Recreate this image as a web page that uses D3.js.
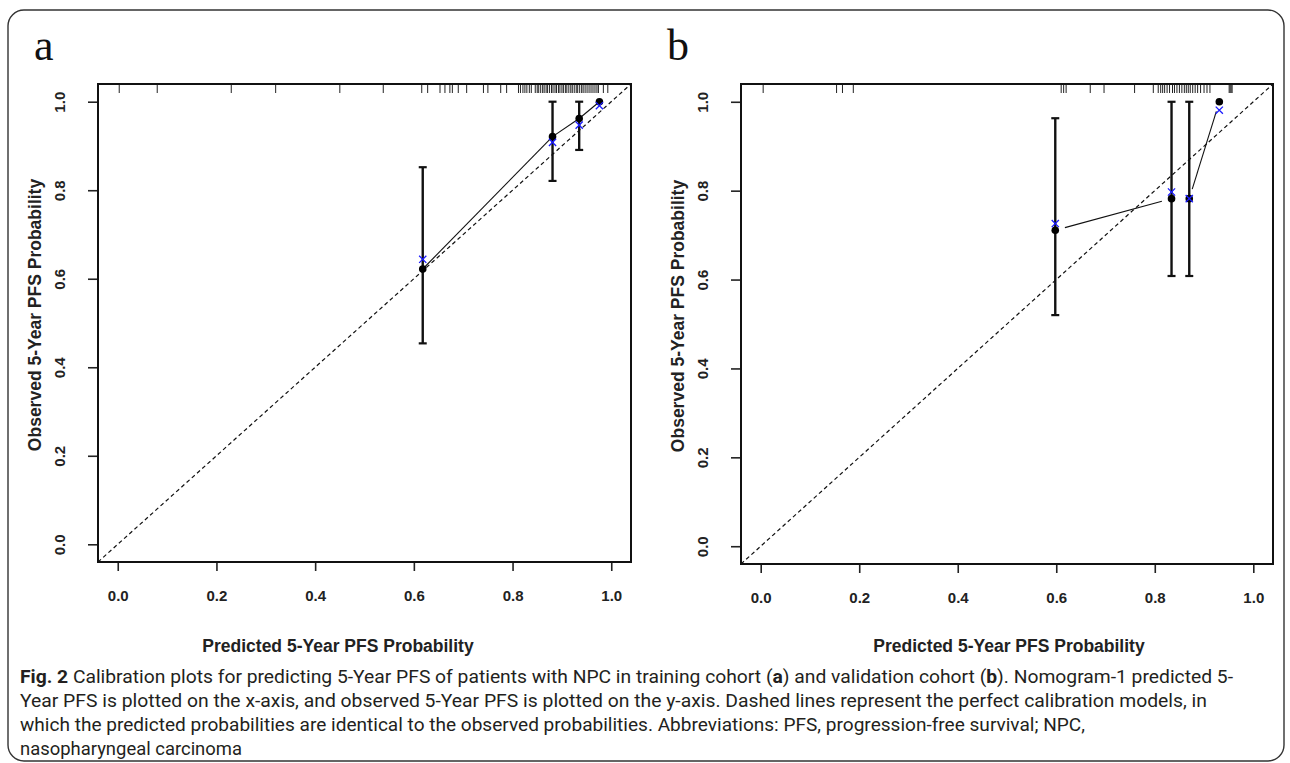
<!DOCTYPE html>
<html>
<head>
<meta charset="utf-8">
<script src="https://cdn.jsdelivr.net/npm/d3@7"></script>
<style>
  body { margin: 0; background: #fff; }
  svg { display: block; }
  .atitle { font-family: "Liberation Sans", Arial, sans-serif; font-weight: bold; font-size: 17.5px; fill: #222; }
  .cap { font-family: "Liberation Sans Narrow", Roboto, sans-serif; font-size: 19px; fill: #231f20; }
</style>
</head>
<body>
<div id="fig"></div>
<script>
// ---- data ----
const ticks = [0, 0.2, 0.4, 0.6, 0.8, 1.0];

// panel a : training cohort
const predA = [0.618, 0.881, 0.935, 0.976];
const obsA  = [0.622, 0.921, 0.962, 1.0];
const corrA = [0.644, 0.908, 0.947, 0.991];
const loA   = [0.454, 0.821, 0.891, 1.0];
const hiA   = [0.852, 1.0, 1.0, 1.0];
const rugA  = [0.003, 0.08, 0.23, 0.32, 0.45, 0.538, 0.616, 0.628, 0.653, 0.663, 0.673, 0.678, 0.69, 0.707,
               0.741, 0.75, 0.776, 0.788, 0.812, 0.816, 0.821, 0.825, 0.829, 0.834, 0.838, 0.846, 0.85, 0.853,
               0.857, 0.861, 0.864, 0.868, 0.871, 0.875, 0.879, 0.882, 0.886, 0.889, 0.893, 0.896, 0.9, 0.903,
               0.907, 0.91, 0.914, 0.918, 0.921, 0.925, 0.929, 0.932, 0.936, 0.94, 0.943, 0.947, 0.951, 0.955,
               0.959, 0.963, 0.967, 0.971, 0.974, 0.984, 0.993];

// panel b : validation cohort
const predB = [0.598, 0.834, 0.870, 0.931];
const obsB  = [0.711, 0.782, 0.782, 1.0];
const corrB = [0.726, 0.797, 0.782, 0.981];
const loB   = [0.52, 0.608, 0.608, 1.0];
const hiB   = [0.963, 1.0, 1.0, 1.0];
const rugB  = [0.005, 0.154, 0.166, 0.188, 0.61, 0.615, 0.62, 0.669, 0.697, 0.759, 0.797, 0.807, 0.812,
               0.816, 0.82, 0.825, 0.83, 0.836, 0.84, 0.845, 0.85, 0.855, 0.86, 0.864, 0.868, 0.872, 0.877,
               0.882, 0.887, 0.893, 0.9, 0.906, 0.912, 0.951, 0.953, 0.955, 0.957];

const xTitle = "Predicted 5-Year PFS Probability";
const yTitle = "Observed 5-Year PFS Probability";

const W = 1290, H = 763;
const svg = d3.select('#fig').append('svg').attr('width', W).attr('height', H);

// rounded outer frame
svg.append('rect')
    .attr('x', 8).attr('y', 10).attr('width', 1276).attr('height', 751)
    .attr('rx', 16)
    .attr('fill', 'none').attr('stroke', '#333').attr('stroke-width', 1.4);

function styleTicks(sel){
    sel.selectAll('.tick text')
        .style('font-family', '"Liberation Sans", Arial, sans-serif')
        .style('font-weight', 'bold').style('font-size', '15px').attr('fill', '#222');
    sel.selectAll('.tick line').attr('stroke', '#222').attr('stroke-width', 1.6);
    sel.select('.domain').remove();
}

function panel(opt){
    const {left, right, top, bottom, letter, letterX, pred, obs, corr, lo, hi, rug, gap, xTitleX} = opt;
    const x = d3.scaleLinear().domain([-0.04, 1.04]).range([left, right]);
    const y = d3.scaleLinear().domain([-0.04, 1.04]).range([bottom, top]);
    const g = svg.append('g');

    // panel letter
    svg.append('text').attr('x', letterX).attr('y', 60)
        .style('font-family', '"Liberation Serif", "DejaVu Serif", serif')
        .style('font-size', '44px').attr('fill', '#111').text(letter);

    // axes
    const gx = g.append('g').attr('transform', `translate(0,${bottom})`)
        .call(d3.axisBottom(x).tickValues(ticks).tickFormat(d3.format('.1f')).tickSize(9).tickPadding(19));
    styleTicks(gx);

    const gy = g.append('g').attr('transform', `translate(${left},0)`)
        .call(d3.axisLeft(y).tickValues(ticks).tickFormat(d3.format('.1f')).tickSize(10));
    styleTicks(gy);
    gy.selectAll('.tick text')
        .attr('x', 0).attr('y', -33).attr('dy', null)
        .attr('text-anchor', 'middle')
        .attr('transform', 'rotate(-90)');

    // axis titles
    g.append('text').attr('class', 'atitle')
        .attr('x', xTitleX).attr('y', 652).attr('text-anchor', 'middle').text(xTitle);
    g.append('text').attr('class', 'atitle')
        .attr('transform', `translate(${left - 57},${(top + bottom) / 2 - 8}) rotate(-90)`)
        .attr('text-anchor', 'middle').text(yTitle);

    // ideal line (abline 0,1) clipped to the box
    const clipId = 'clip' + letter;
    svg.append('clipPath').attr('id', clipId).append('rect')
        .attr('x', left).attr('y', top).attr('width', right - left).attr('height', bottom - top);
    g.append('line').attr('clip-path', `url(#${clipId})`)
        .attr('x1', x(-0.04)).attr('y1', y(-0.04)).attr('x2', x(1.04)).attr('y2', y(1.04))
        .attr('stroke', '#111').attr('stroke-width', 1.2).attr('stroke-dasharray', '4,3');

    // rug along the top
    g.selectAll('.rug').data(rug).join('line')
        .attr('x1', d => x(d)).attr('x2', d => x(d))
        .attr('y1', top).attr('y2', top + 9)
        .attr('stroke', '#222').attr('stroke-width', 1);

    const pts = pred.map((p, i) => ({p, o: obs[i], c: corr[i], lo: lo[i], hi: hi[i]}));

    // connecting line (with optional gap around points)
    for (let i = 0; i < pts.length - 1; i++){
        let x1 = x(pts[i].p), y1 = y(pts[i].o), x2 = x(pts[i+1].p), y2 = y(pts[i+1].o);
        const len = Math.hypot(x2 - x1, y2 - y1);
        if (len <= 2 * gap) continue;
        const ux = (x2 - x1) / len, uy = (y2 - y1) / len;
        g.append('line')
            .attr('x1', x1 + ux * gap).attr('y1', y1 + uy * gap)
            .attr('x2', x2 - ux * gap).attr('y2', y2 - uy * gap)
            .attr('stroke', '#111').attr('stroke-width', 1.1);
    }

    // error bars
    const eb = g.selectAll('.eb').data(pts.filter(d => d.hi - d.lo > 0.001)).join('g');
    eb.append('line')
        .attr('x1', d => x(d.p)).attr('x2', d => x(d.p))
        .attr('y1', d => y(d.lo)).attr('y2', d => y(d.hi))
        .attr('stroke', '#111').attr('stroke-width', 2.4);
    eb.append('line')
        .attr('x1', d => x(d.p) - 4).attr('x2', d => x(d.p) + 4)
        .attr('y1', d => y(d.lo)).attr('y2', d => y(d.lo))
        .attr('stroke', '#111').attr('stroke-width', 2.2);
    eb.append('line')
        .attr('x1', d => x(d.p) - 4).attr('x2', d => x(d.p) + 4)
        .attr('y1', d => y(d.hi)).attr('y2', d => y(d.hi))
        .attr('stroke', '#111').attr('stroke-width', 2.2);

    // observed dots
    g.selectAll('.dot').data(pts).join('circle')
        .attr('cx', d => x(d.p)).attr('cy', d => y(d.o)).attr('r', 3.8)
        .attr('fill', '#000');

    // bias corrected (blue x)
    const s = 3.6;
    g.selectAll('.cx').data(pts).join('path')
        .attr('d', d => `M${x(d.p)-s},${y(d.c)-s}L${x(d.p)+s},${y(d.c)+s}M${x(d.p)-s},${y(d.c)+s}L${x(d.p)+s},${y(d.c)-s}`)
        .attr('stroke', '#1a1aff').attr('stroke-width', 1.3).attr('fill', 'none');

    // box
    g.append('rect').attr('x', left).attr('y', top).attr('width', right - left).attr('height', bottom - top)
        .attr('fill', 'none').attr('stroke', '#111').attr('stroke-width', 2);
}

panel({left: 98, right: 631, top: 84, bottom: 562, letter: 'a', letterX: 34, xTitleX: 338,
       pred: predA, obs: obsA, corr: corrA, lo: loA, hi: hiA, rug: rugA, gap: 0});
panel({left: 741, right: 1273, top: 84, bottom: 564, letter: 'b', letterX: 667, xTitleX: 1009,
       pred: predB, obs: obsB, corr: corrB, lo: loB, hi: hiB, rug: rugB, gap: 10});

// caption
const capLines = [
    [["Fig. 2", true], [" Calibration plots for predicting 5-Year PFS of patients with NPC in training cohort (", false], ["a", true],
     [") and validation cohort (", false], ["b", true], [").  Nomogram-1 predicted 5-", false]],
    [["Year PFS is plotted on the x-axis, and observed 5-Year PFS is plotted on the y-axis. Dashed lines represent the perfect calibration models, in", false]],
    [["which the predicted probabilities are identical to the observed probabilities. Abbreviations: PFS, progression-free survival; NPC,", false]],
    [["nasopharyngeal carcinoma", false]]
];
const capWidths = [1213, 1187, 1065, 222];
capLines.forEach((ln, i) => {
    const t = svg.append('text').attr('class', 'cap')
        .attr('x', 20).attr('y', 683 + i * 24)
        .attr('textLength', capWidths[i]).attr('lengthAdjust', 'spacingAndGlyphs');
    ln.forEach(([str, b]) => t.append('tspan').attr('font-weight', b ? 'bold' : null).text(str));
});
</script>
</body>
</html>
